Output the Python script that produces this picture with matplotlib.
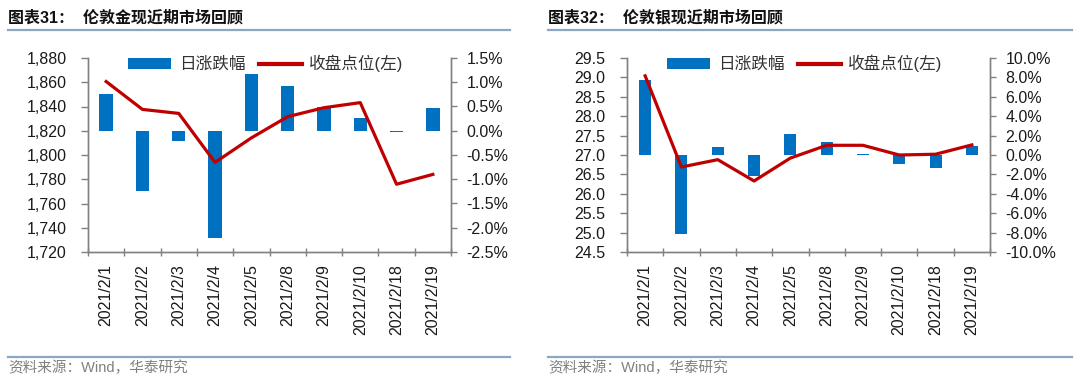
import matplotlib
matplotlib.use('Agg')
import matplotlib.pyplot as plt
from matplotlib.lines import Line2D
from matplotlib.patches import Patch
from matplotlib.ticker import FuncFormatter, FixedLocator
import numpy as np

plt.rcParams['font.family'] = ['Liberation Sans', 'Noto Sans CJK SC', 'DejaVu Sans']

dates = ['2021/2/1', '2021/2/2', '2021/2/3', '2021/2/4', '2021/2/5',
         '2021/2/8', '2021/2/9', '2021/2/10', '2021/2/18', '2021/2/19']

gold_close = [1860.6, 1837.6, 1834.3, 1793.9, 1814.1, 1831.6, 1839.0, 1843.2, 1775.9, 1784.0]
gold_chg = [0.75, -1.25, -0.21, -2.22, 1.17, 0.93, 0.48, 0.27, -0.03, 0.46]  # %

silver_close = [29.04, 26.69, 26.88, 26.33, 26.92, 27.25, 27.25, 27.00, 27.02, 27.26]
silver_chg = [7.75, -8.17, 0.80, -2.21, 2.18, 1.35, 0.12, -0.93, -1.31, 0.97]  # %

titles = ['图表31：  伦敦金现近期市场回顾', '图表32：  伦敦银现近期市场回顾']
source = '资料来源：Wind，华泰研究'
legend_labels = ['日涨跌幅', '收盘点位(左)']

BAR = '#0070C0'
RED = '#C00000'
GREY = '#808080'
TXT = '#1a1a1a'
RULE = '#8CA6C6'

W, H = 1080, 380
fig = plt.figure(figsize=(W / 100, H / 100), dpi=100)


def fx(px):
    return px / W


def fy(py):
    return 1 - py / H


def panel(x0, x1, close, chg, lylim, lticks, lfmt, rylim, rticks, rfmt, barw, title, tx, rule_x1):
    ax = fig.add_axes([fx(x0), fy(252), fx(x1 - x0), (252 - 58) / H])
    ax2 = ax.twinx()
    x = np.arange(len(dates))
    ax2.bar(x, chg, width=barw, color=BAR, zorder=2)
    ax.plot(x, close, color=RED, lw=2.3, solid_joinstyle='round', zorder=3)
    ax.set_zorder(ax2.get_zorder() + 1)
    ax.patch.set_visible(False)

    ax.set_xlim(-0.5, len(dates) - 0.5)
    ax.set_ylim(*lylim)
    ax.set_yticks(lticks)
    ax.yaxis.set_major_formatter(FuncFormatter(lfmt))
    ax2.set_ylim(*rylim)
    ax2.set_yticks(rticks)
    ax2.yaxis.set_major_formatter(FuncFormatter(rfmt))

    ax.xaxis.set_major_locator(FixedLocator(np.arange(-0.5, len(dates), 1.0)))
    ax.xaxis.set_minor_locator(FixedLocator(x))
    ax.set_xticklabels([], minor=False)
    ax.set_xticklabels(dates, minor=True, rotation=90, fontsize=11.5, color=TXT)
    ax.tick_params(axis='x', which='major', direction='inout', length=6, color=GREY, width=1)
    ax.tick_params(axis='x', which='minor', length=0, pad=9)

    ax.tick_params(axis='y', direction='out', length=5, color=GREY, width=1,
                   labelsize=11.5, labelcolor=TXT, pad=10.5)
    ax2.tick_params(axis='y', direction='out', length=4, color=GREY, width=1,
                    labelsize=11.5, labelcolor=TXT, pad=7)

    for a in (ax, ax2):
        a.spines['top'].set_visible(False)
        for s in ('left', 'right', 'bottom'):
            a.spines[s].set_color(GREY)
            a.spines[s].set_linewidth(1)

    handles = [Patch(facecolor=BAR, edgecolor='none'),
               Line2D([0], [0], color=RED, lw=3)]
    leg = ax.legend(handles, legend_labels, loc='center', bbox_to_anchor=(0.49, 0.972),
                    ncol=2, frameon=False, fontsize=12, handlelength=2.6,
                    handleheight=0.6, handletextpad=0.45, columnspacing=0.8,
                    borderpad=0, borderaxespad=0)
    for t in leg.get_texts():
        t.set_color('#333333')

    fig.text(fx(tx), fy(18), title, fontsize=11.5, fontweight='bold', color='#111111',
             va='center', ha='left')
    fig.add_artist(Line2D([fx(tx), fx(rule_x1)], [fy(30), fy(30)], color=RULE, lw=1.6))
    fig.add_artist(Line2D([fx(tx), fx(rule_x1)], [fy(357), fy(357)], color=RULE, lw=1.6))
    fig.text(fx(tx), fy(368), source, fontsize=10.5, color=GREY, va='center', ha='left')
    return ax, ax2


panel(88, 451, gold_close, gold_chg,
      (1720, 1880), np.arange(1720, 1881, 20), lambda v, p: f'{v:,.0f}',
      (-2.5, 1.5), np.arange(-2.5, 1.51, 0.5), lambda v, p: f'{v:.1f}%',
      0.37, titles[0], 8, 510)

panel(627, 990, silver_close, silver_chg,
      (24.5, 29.5), np.arange(24.5, 29.51, 0.5), lambda v, p: f'{v:.1f}',
      (-10, 10), np.arange(-10, 10.01, 2), lambda v, p: f'{v:.1f}%',
      0.33, titles[1], 548, 1072)

fig.savefig('out.png', dpi=100)
